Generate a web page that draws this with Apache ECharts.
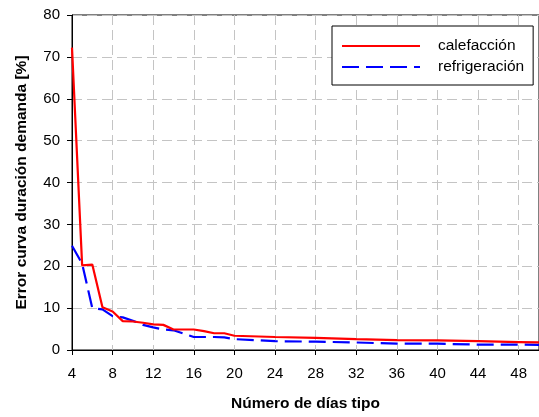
<!DOCTYPE html>
<html>
<head>
<meta charset="utf-8">
<script src="https://cdn.jsdelivr.net/npm/echarts@6/dist/echarts.min.js"></script>
<style>
  html, body { margin: 0; padding: 0; background: #fff; }
  #chart { width: 539px; height: 417px; }
</style>
</head>
<body>
<div id="chart"></div>
<script>
// número de días tipo
const dias = [4, 5, 6, 7, 8, 9, 10, 11, 12, 13, 14, 15, 16, 17, 18, 19, 20, 24, 28, 32, 36, 40, 44, 48, 50]
// error curva duración demanda [%]
const calefaccion = [72.2, 20.2, 20.4, 10.2, 9.2, 6.9, 6.8, 6.5, 6.1, 6.0, 4.9, 4.9, 4.9, 4.5, 4.0, 4.0, 3.4, 3.1, 2.9, 2.6, 2.35, 2.3, 2.1, 1.9, 1.8]
const refrigeracion = [24.9, 20.6, 10.0, 9.7, 8.1, 7.8, 7.0, 6.0, 5.4, 4.9, 4.7, 3.9, 3.1, 3.1, 3.1, 3.0, 2.6, 2.1, 2.0, 1.8, 1.5, 1.5, 1.3, 1.3, 1.2]

const xTicks = { min: 4, max: 50, step: 4 }
const yTicks = { min: 0, max: 80, step: 10 }

const chart = echarts.init(document.getElementById('chart'))

const font = 'Liberation Sans, Arial, sans-serif'
const gridLine = { show: true, lineStyle: { color: '#c4c4c4', type: [10, 5], width: 1 } }

const options = {
  backgroundColor: '#fff',
  animation: false,
  grid: {
    left: 72,
    right: -7,
    top: 15,
    bottom: 62,
    show: true,
    borderColor: '#000',
    borderWidth: 1
  },
  legend: {
    orient: 'vertical',
    left: 332,
    top: 26,
    padding: [12, 9, 10, 9],
    itemGap: 5,
    itemWidth: 78,
    itemHeight: 15,
    backgroundColor: '#fff',
    borderColor: '#000',
    borderWidth: 1,
    itemStyle: { opacity: 0 },
    textStyle: { fontFamily: font, fontSize: 15.5, color: '#000', padding: [0, 0, 0, 13] },
    data: ['calefacción', 'refrigeración']
  },
  xAxis: {
    type: 'value',
    min: xTicks.min,
    max: xTicks.max,
    interval: xTicks.step,
    name: 'Número de días tipo',
    nameLocation: 'middle',
    nameGap: 46,
    nameTextStyle: { fontFamily: font, fontSize: 15.5, fontWeight: 'bold', color: '#000' },
    axisLine: { lineStyle: { color: '#000', width: 1 } },
    axisTick: { show: true, inside: false, length: 5, lineStyle: { color: '#000' } },
    axisLabel: { fontFamily: font, fontSize: 15, color: '#000', margin: 16, showMaxLabel: false },
    splitLine: gridLine
  },
  yAxis: {
    type: 'value',
    min: yTicks.min,
    max: yTicks.max,
    interval: yTicks.step,
    name: 'Error curva duración demanda [%]',
    nameLocation: 'middle',
    nameGap: 42,
    nameTextStyle: { fontFamily: font, fontSize: 15.5, fontWeight: 'bold', color: '#000' },
    axisLine: { show: true, lineStyle: { color: '#000', width: 1 } },
    axisTick: { show: true, inside: false, length: 5, lineStyle: { color: '#000' } },
    axisLabel: { fontFamily: font, fontSize: 15, color: '#000', margin: 12 },
    splitLine: gridLine
  },
  series: [
    {
      name: 'calefacción',
      type: 'line',
      symbol: 'none',
      data: dias.map((d, i) => [d, calefaccion[i]]),
      lineStyle: { color: '#ff0000', width: 2.2 },
      itemStyle: { color: '#ff0000' },
      z: 3
    },
    {
      name: 'refrigeración',
      type: 'line',
      symbol: 'none',
      data: dias.map((d, i) => [d, refrigeracion[i]]),
      lineStyle: { color: '#0000ff', width: 2.2, type: [17, 7] },
      itemStyle: { color: '#0000ff' },
      z: 2
    }
  ]
}

chart.setOption(options)
</script>
</body>
</html>
